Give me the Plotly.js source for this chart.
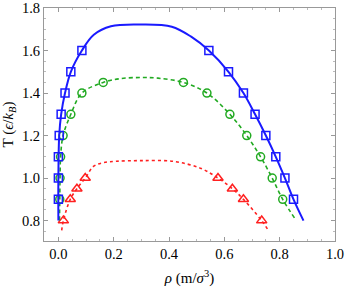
<!DOCTYPE html>
<html><head><meta charset="utf-8">
<script src="https://cdn.plot.ly/plotly-3.0.1.min.js"></script>
<style>html,body{margin:0;padding:0;background:#fff}#c{width:346px;height:287px}</style>
</head><body><div id="c"></div>
<script>
// Blue (squares, solid)
const blueMarkX = [0.0, 0.0, 0.0, 0.003, 0.01, 0.024, 0.045, 0.085, 0.544, 0.615, 0.669, 0.711, 0.75, 0.786, 0.819, 0.85];
const blueMarkY = [0.9, 1.0, 1.1, 1.2, 1.3, 1.4, 1.5, 1.6, 1.6, 1.5, 1.4, 1.3, 1.2, 1.1, 1.0, 0.9];
const blueCurveX = [0.0, 0.0, 0.003, 0.01, 0.024, 0.045, 0.085, 0.128, 0.19, 0.3, 0.41, 0.48, 0.544, 0.615, 0.669, 0.711, 0.75, 0.786, 0.819, 0.85, 0.886];
const blueCurveY = [0.8, 1.0, 1.2, 1.3, 1.4, 1.5, 1.6, 1.674, 1.714, 1.722, 1.712, 1.665, 1.6, 1.5, 1.4, 1.3, 1.2, 1.1, 1.0, 0.9, 0.8];
// Green (circles, dashed)
const greenMarkX = [0.005, 0.006, 0.008, 0.017, 0.045, 0.085, 0.162, 0.452, 0.537, 0.62, 0.681, 0.731, 0.773, 0.811];
const greenMarkY = [0.9, 1.0, 1.1, 1.2, 1.3, 1.4, 1.45, 1.45, 1.4, 1.3, 1.2, 1.1, 1.0, 0.9];
const greenCurveX = [0.004, 0.005, 0.006, 0.008, 0.017, 0.045, 0.085, 0.162, 0.225, 0.3, 0.36, 0.452, 0.537, 0.62, 0.681, 0.731, 0.773, 0.811, 0.86];
const greenCurveY = [0.8, 0.9, 1.0, 1.1, 1.2, 1.3, 1.4, 1.45, 1.468, 1.473, 1.47, 1.45, 1.4, 1.3, 1.2, 1.1, 1.0, 0.9, 0.8];
// Red (triangles, dotted)
const redMarkX = [0.018, 0.043, 0.067, 0.097, 0.577, 0.629, 0.669, 0.735];
const redMarkY = [0.8, 0.9, 0.95, 1.0, 1.0, 0.95, 0.9, 0.8];
const redCurveX = [0.012, 0.018, 0.043, 0.067, 0.097, 0.128, 0.164, 0.21, 0.3, 0.42, 0.516, 0.577, 0.629, 0.669, 0.735, 0.759];
const redCurveY = [0.754, 0.8, 0.9, 0.95, 1.0, 1.056, 1.073, 1.079, 1.082, 1.078, 1.045, 1.0, 0.95, 0.9, 0.8, 0.754];

const xTicks = [0.0, 0.2, 0.4, 0.6, 0.8, 1.0];
const xTickText = ['0.0', '0.2', '0.4', '0.6', '0.8', '1.0'];
const yTicks = [0.8, 1.0, 1.2, 1.4, 1.6, 1.8];
const yTickText = ['0.8', '1.0', '1.2', '1.4', '1.6', '1.8'];

const BLUE = '#1a1aff', GREEN = '#22aa22', RED = '#ff2020';
const data = [
  {x: redCurveX, y: redCurveY, mode: 'lines', line: {color: RED, width: 1.6, dash: 'dot', shape: 'spline', smoothing: 1}},
  {x: redMarkX, y: redMarkY, mode: 'markers', marker: {symbol: 'triangle-up-open', size: 9, color: RED, line: {width: 1.5, color: RED}}},
  {x: greenCurveX, y: greenCurveY, mode: 'lines', line: {color: GREEN, width: 1.6, dash: '4px,3px', shape: 'spline', smoothing: 1}},
  {x: greenMarkX, y: greenMarkY, mode: 'markers', marker: {symbol: 'circle-open', size: 8, color: GREEN, line: {width: 1.5, color: GREEN}}},
  {x: blueCurveX, y: blueCurveY, mode: 'lines', line: {color: BLUE, width: 2, shape: 'spline', smoothing: 1}},
  {x: blueMarkX, y: blueMarkY, mode: 'markers', marker: {symbol: 'square-open', size: 8, color: BLUE, line: {width: 1.5, color: BLUE}}}
];
const tickFont = {family: 'Liberation Serif', size: 14.5, color: '#000'};
const titleFont = {family: 'Liberation Serif', size: 15, color: '#000'};
const axisCommon = {
  showgrid: false, zeroline: false, showline: true, linecolor: '#999', linewidth: 1, mirror: 'allticks',
  ticks: 'inside', ticklen: 4, tickcolor: '#999', tickfont: tickFont,
  minor: {ticks: 'inside', ticklen: 2, tickcolor: '#bbb', dtick: 0.05, showgrid: false}
};
const layout = {
  width: 346, height: 287, margin: {l: 44, r: 11, t: 8, b: 46},
  paper_bgcolor: '#fff', plot_bgcolor: '#fff', showlegend: false, font: tickFont,
  xaxis: Object.assign({}, axisCommon, {range: [-0.052, 1.0], tickvals: xTicks, ticktext: xTickText,
    title: {text: '<i>ρ</i> (m/<i>σ</i><sup>3</sup>)', font: titleFont, standoff: 13}}),
  yaxis: Object.assign({}, axisCommon, {range: [0.704, 1.8], tickvals: yTicks, ticktext: yTickText,
    title: {text: 'T (<i>ϵ</i>/<i>k</i><sub><i>B</i></sub>)', font: titleFont, standoff: 4}})
};
Plotly.newPlot('c', data, layout, {staticPlot: true, displayModeBar: false});
</script></body></html>
